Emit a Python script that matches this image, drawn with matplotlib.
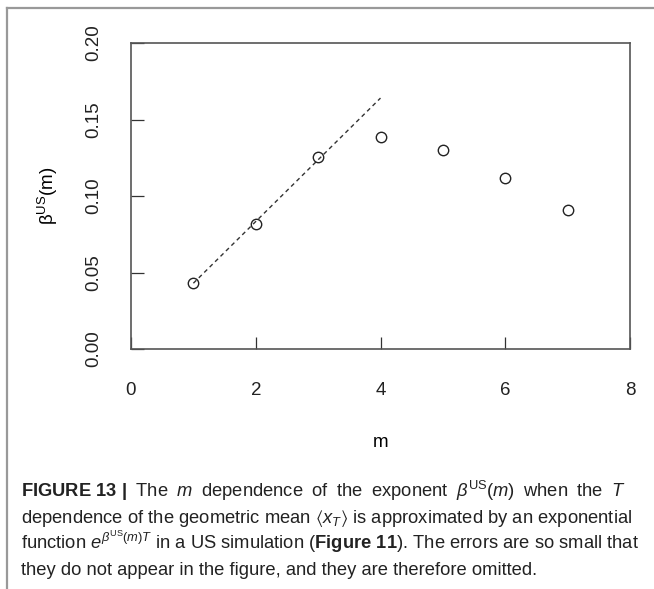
import matplotlib.pyplot as plt
from matplotlib.lines import Line2D

plt.rcParams['font.family'] = ['Liberation Sans', 'DejaVu Sans']
plt.rcParams['mathtext.fontset'] = 'custom'
plt.rcParams['mathtext.rm'] = 'Liberation Sans'
plt.rcParams['mathtext.it'] = 'Liberation Sans:italic'
plt.rcParams['mathtext.bf'] = 'Liberation Sans:bold'
plt.rcParams['mathtext.fallback'] = 'stixsans'

# données
m_vals = [1, 2, 3, 4, 5, 6, 7]
beta_vals = [0.043, 0.082, 0.1255, 0.1385, 0.130, 0.112, 0.091]
# droite d'ajustement (pointillés)
fit_m = [1, 4]
fit_beta = [0.043, 0.164]

x_ticks = [0, 2, 4, 6, 8]
y_ticks = [0.00, 0.05, 0.10, 0.15, 0.20]
y_tick_labels = ['0.00', '0.05', '0.10', '0.15', '0.20']

# légende (texte justifié : espaces élargis sur la 1re ligne)
sp = r" $\;$"
caption = [
    r"$\mathbf{FIGURE\ 13\ |}$" + sp + sp.join(["The", "$m$", "dependence", "of", "the", "exponent",
                                                r"$\beta^{\mathrm{US}}(m)$", "when", "the", "$T$"]),
    r"dependence of the geometric mean $\langle x_T\rangle$ is approximated by an exponential",
    r"function $e^{\beta^{\mathrm{US}}(m)T}$ in a US simulation ($\mathbf{Figure\ 11}$). The errors are so small that",
    r"they do not appear in the figure, and they are therefore omitted.",
]

fig = plt.figure(figsize=(6.54, 5.89), dpi=100)
ax = fig.add_axes([131 / 654, 240 / 589, 499 / 654, 306 / 589])

ax.plot(fit_m, fit_beta, color='#333333', linestyle=(0, (3, 2.5)), linewidth=1)
ax.plot(m_vals, beta_vals, linestyle='none', marker='o', markersize=7.5,
        markerfacecolor='none', markeredgecolor='#222222', markeredgewidth=1)

ax.set_xlim(0, 8)
ax.set_ylim(0, 0.2)
ax.set_xticks(x_ticks)
ax.set_yticks(y_ticks)
ax.set_yticklabels(y_tick_labels, rotation=90, va='center')
ax.tick_params(direction='in', length=9, width=0.9, colors='#333333', labelsize=13.5)
ax.tick_params(axis='x', pad=24, labelcolor='#222222')
ax.tick_params(axis='y', pad=21, labelcolor='#222222')
for s in ax.spines.values():
    s.set_linewidth(1.2)
    s.set_color('#555555')

ax.set_xlabel('m', fontsize=13.5, labelpad=25)
ax.set_ylabel(r'β$^{\mathrm{US}}$(m)', fontsize=13.5, labelpad=18)

# cadre de la figure
fig.add_artist(Line2D([7 / 654, 7 / 654], [0, 1 - 8 / 589], transform=fig.transFigure,
                      color='#999999', linewidth=1.6))
fig.add_artist(Line2D([7 / 654, 1], [1 - 8 / 589, 1 - 8 / 589], transform=fig.transFigure,
                      color='#999999', linewidth=1.6))

y_base = [497, 523, 549, 575]
for txt, yp in zip(caption, y_base):
    fig.text(21 / 654, 1 - yp / 589, txt, fontsize=13.2, va='baseline', ha='left', color='#222222')

plt.savefig('out.png', dpi=100)
